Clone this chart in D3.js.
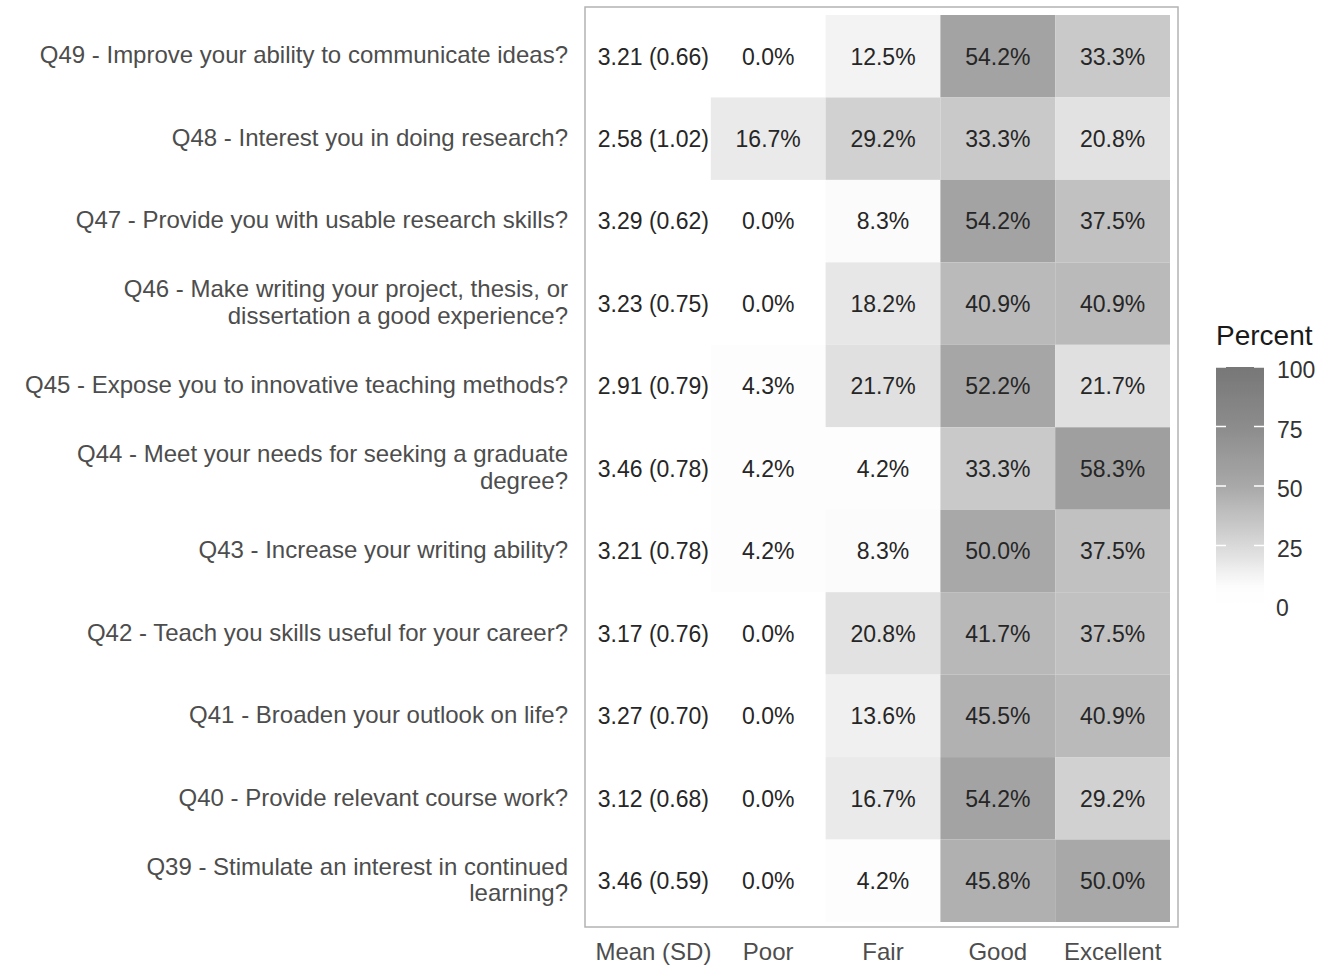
<!DOCTYPE html>
<html>
<head>
<meta charset="utf-8">
<script src="https://cdn.jsdelivr.net/npm/d3@7"></script>
<style>
  body { margin: 0; background: #fff; }
  svg text { font-family: "Liberation Sans", Arial, sans-serif; }
</style>
</head>
<body>
<div class="svgContainer"></div>
<script>
// rows top to bottom
let questions = [
  "Q49 - Improve your ability to communicate ideas?",
  "Q48 - Interest you in doing research?",
  "Q47 - Provide you with usable research skills?",
  "Q46 - Make writing your project, thesis, or\ndissertation a good experience?",
  "Q45 - Expose you to innovative teaching methods?",
  "Q44 - Meet your needs for seeking a graduate\ndegree?",
  "Q43 - Increase your writing ability?",
  "Q42 - Teach you skills useful for your career?",
  "Q41 - Broaden your outlook on life?",
  "Q40 - Provide relevant course work?",
  "Q39 - Stimulate an interest in continued\nlearning?"
];
let means = [3.21, 2.58, 3.29, 3.23, 2.91, 3.46, 3.21, 3.17, 3.27, 3.12, 3.46];
let sds = [0.66, 1.02, 0.62, 0.75, 0.79, 0.78, 0.78, 0.76, 0.70, 0.68, 0.59];
let poor = [0.0, 16.7, 0.0, 0.0, 4.3, 4.2, 4.2, 0.0, 0.0, 0.0, 0.0];
let fair = [12.5, 29.2, 8.3, 18.2, 21.7, 4.2, 8.3, 20.8, 13.6, 16.7, 4.2];
let good = [54.2, 33.3, 54.2, 40.9, 52.2, 33.3, 50.0, 41.7, 45.5, 54.2, 45.8];
let excellent = [33.3, 20.8, 37.5, 40.9, 21.7, 58.3, 37.5, 37.5, 40.9, 29.2, 50.0];
let columns = ["Mean (SD)", "Poor", "Fair", "Good", "Excellent"];
let legendTicks = [0, 25, 50, 75, 100];

let w = 1337;
let h = 970;

let series = { "Poor": poor, "Fair": fair, "Good": good, "Excellent": excellent };

let cells = [];
questions.forEach((q, i) => {
  cells.push({ q: q, col: "Mean (SD)", label: means[i].toFixed(2) + " (" + sds[i].toFixed(2) + ")", value: null });
  columns.slice(1).forEach(c => {
    cells.push({ q: q, col: c, label: series[c][i].toFixed(1) + "%", value: series[c][i] });
  });
});

let xScale = d3.scaleBand()
  .domain(columns)
  .range([596, 1170]);

let yScale = d3.scaleBand()
  .domain(questions)
  .range([15, 922]);

// scanned greys: very low values wash out to white
let color = d3.scaleLinear()
  .domain([0, 8, 25, 50, 75, 100])
  .range(["#ffffff", "#fcfcfc", "#d9d9d9", "#a8a8a8", "#8c8c8c", "#777777"]);

const svg = d3.select(".svgContainer")
  .append("svg")
  .attr("width", w)
  .attr("height", h);

// panel border
svg.append("rect")
  .attr("x", 585)
  .attr("y", 7)
  .attr("width", 593)
  .attr("height", 920)
  .attr("fill", "none")
  .attr("stroke", "#b3b3b3")
  .attr("stroke-width", 1.5);

svg.selectAll(".tile")
  .data(cells.filter(d => d.value !== null))
  .enter()
  .append("rect")
  .attr("class", "tile")
  .attr("x", d => xScale(d.col))
  .attr("y", d => yScale(d.q))
  .attr("width", xScale.bandwidth())
  .attr("height", yScale.bandwidth())
  .attr("fill", d => color(d.value));

svg.selectAll(".cellText")
  .data(cells)
  .enter()
  .append("text")
  .attr("class", "cellText")
  .attr("x", d => xScale(d.col) + xScale.bandwidth() / 2)
  .attr("y", d => yScale(d.q) + yScale.bandwidth() / 2)
  .attr("dy", "0.36em")
  .attr("text-anchor", "middle")
  .attr("font-size", "23px")
  .attr("fill", "#262626")
  .text(d => d.label);

// x axis (bottom)
const xAxis = svg.append("g")
  .attr("transform", "translate(0, 936)")
  .call(d3.axisBottom(xScale).tickSize(0).tickPadding(7));
xAxis.select(".domain").remove();
xAxis.selectAll("text")
  .attr("font-size", "24px")
  .attr("fill", "#4d4d4d");

// y axis (left) with wrapped labels
const yAxis = svg.append("g")
  .attr("transform", "translate(578, 0)")
  .call(d3.axisLeft(yScale).tickSize(0).tickPadding(10));
yAxis.select(".domain").remove();
yAxis.selectAll("text")
  .attr("font-size", "24px")
  .attr("fill", "#4d4d4d")
  .each(function (d) {
    let lines = d.split("\n");
    let t = d3.select(this).text(null).attr("dy", null);
    lines.forEach((line, k) => {
      t.append("tspan")
        .attr("x", -10)
        .attr("dy", k === 0 ? (0.3 - (lines.length - 1) * 0.56) + "em" : "1.12em")
        .text(line);
    });
  });

// legend
let legendScale = d3.scaleLinear()
  .domain([0, 100])
  .range([605, 367]);

let defs = svg.append("defs");
let grad = defs.append("linearGradient")
  .attr("id", "legendGrad")
  .attr("x1", "0").attr("y1", "1")
  .attr("x2", "0").attr("y2", "0");
d3.range(0, 101, 2).forEach(v => {
  grad.append("stop")
    .attr("offset", v + "%")
    .attr("stop-color", color(v));
});

svg.append("rect")
  .attr("x", 1216)
  .attr("y", legendScale(100))
  .attr("width", 48)
  .attr("height", legendScale(0) - legendScale(100))
  .attr("fill", "url(#legendGrad)");

svg.selectAll(".legTickL")
  .data(legendTicks)
  .enter()
  .append("line")
  .attr("x1", 1216).attr("x2", 1226)
  .attr("y1", d => legendScale(d)).attr("y2", d => legendScale(d))
  .attr("stroke", "#fff").attr("stroke-width", 1.5);

svg.selectAll(".legTickR")
  .data(legendTicks)
  .enter()
  .append("line")
  .attr("x1", 1254).attr("x2", 1264)
  .attr("y1", d => legendScale(d)).attr("y2", d => legendScale(d))
  .attr("stroke", "#fff").attr("stroke-width", 1.5);

svg.selectAll(".legLabel")
  .data(legendTicks)
  .enter()
  .append("text")
  .attr("x", d => d === 0 ? 1276 : 1277)
  .attr("y", d => legendScale(d) + 3)
  .attr("dy", "0.36em")
  .attr("font-size", "23px")
  .attr("fill", "#333")
  .text(d => d);

svg.append("text")
  .attr("x", 1216)
  .attr("y", 345)
  .attr("font-size", "28px")
  .attr("fill", "#1a1a1a")
  .text("Percent");
</script>
</body>
</html>
